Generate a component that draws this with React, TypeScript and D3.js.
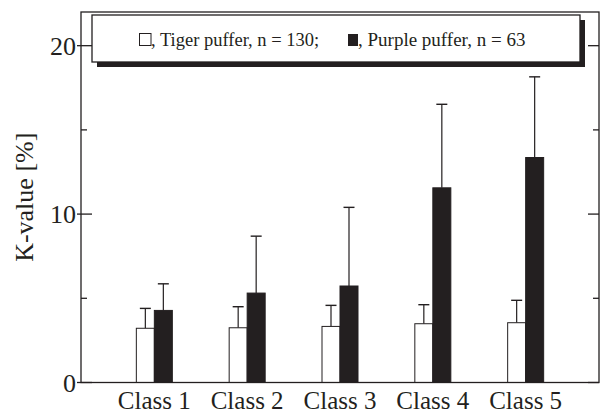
import React from "react";
import * as d3 from "d3";

const categories = ["Class 1", "Class 2", "Class 3", "Class 4", "Class 5"];
const tigerMean = [3.22, 3.25, 3.33, 3.49, 3.55];
const tigerSD = [1.18, 1.25, 1.25, 1.13, 1.33];
const purpleMean = [4.28, 5.31, 5.73, 11.56, 13.36];
const purpleSD = [1.58, 3.38, 4.67, 4.96, 4.79];
const majorTicks = [0, 10, 20];
const minorTicks = [5, 15];
const legendTiger = ", Tiger puffer, n = 130;";
const legendPurple = ", Purple puffer, n = 63";
const yLabel = "K-value [%]";

const W = 601;
const H = 415;
const M = { left: 81, right: 599, top: 12, bottom: 382.5 };
const INK = "#231f20";
const FONT = "'Liberation Serif', 'Times New Roman', serif";

export default function App() {
  const x = d3.scalePoint<string>().domain(categories).range([M.left, M.right]).padding(0.79);
  const y = d3.scaleLinear().domain([0, 22]).range([M.bottom, M.top]);
  const barW = 18;
  const capW = 11;

  const series = [
    { mean: tigerMean, sd: tigerSD, fill: "#ffffff", off: -barW },
    { mean: purpleMean, sd: purpleSD, fill: INK, off: 0 },
  ];

  return (
    <svg width={W} height={H} style={{ position: "absolute", left: 0, top: 0, background: "#fff" }} fontFamily={FONT}>
      {/* bars */}
      {series.map((s, si) =>
        categories.map((c, i) => {
          const cx = (x(c) as number) + s.off;
          const top = y(s.mean[i]);
          const errTop = y(s.mean[i] + s.sd[i]);
          const mid = cx + barW / 2;
          return (
            <g key={`${si}-${i}`}>
              <line x1={mid} x2={mid} y1={top} y2={errTop} stroke={INK} strokeWidth={1.2} />
              <line x1={mid - capW / 2} x2={mid + capW / 2} y1={errTop} y2={errTop} stroke={INK} strokeWidth={1.4} />
              <rect x={cx} y={top} width={barW} height={y(0) - top} fill={s.fill} stroke={INK} strokeWidth={1} />
            </g>
          );
        })
      )}

      {/* frame */}
      <rect x={M.left} y={M.top} width={M.right - M.left} height={M.bottom - M.top} fill="none" stroke={INK} strokeWidth={1.3} />

      {/* y ticks left & right */}
      {majorTicks.map((t) => (
        <g key={`mj${t}`}>
          <line x1={M.left - 4} x2={M.left + 11} y1={y(t)} y2={y(t)} stroke={INK} strokeWidth={1.3} />
          <line x1={M.right - 11} x2={M.right} y1={y(t)} y2={y(t)} stroke={INK} strokeWidth={1.3} />
          <text x={76} y={y(t)} dy="0.35em" textAnchor="end" fontSize={26} fill={INK}>
            {t}
          </text>
        </g>
      ))}
      {minorTicks.map((t) => (
        <g key={`mn${t}`}>
          <line x1={M.left} x2={M.left + 6} y1={y(t)} y2={y(t)} stroke={INK} strokeWidth={1.3} />
          <line x1={M.right - 6} x2={M.right} y1={y(t)} y2={y(t)} stroke={INK} strokeWidth={1.3} />
        </g>
      ))}

      {/* x labels */}
      {categories.map((c) => (
        <text key={c} x={x(c) as number} y={408.5} textAnchor="middle" fontSize={25} fill={INK}>
          {c}
        </text>
      ))}

      {/* y label */}
      <text transform={`translate(33, ${(M.top + M.bottom) / 2}) rotate(-90)`} textAnchor="middle" fontSize={26} fill={INK}>
        {yLabel}
      </text>

      {/* legend */}
      <rect x={97} y={20} width={488} height={47} fill={INK} />
      <rect x={92} y={15} width={488} height={47} fill="#fff" stroke={INK} strokeWidth={1.3} />
      <rect x={139.5} y={33.5} width={11.5} height={12} fill="#fff" stroke={INK} strokeWidth={1} />
      <text x={151} y={46} fontSize={18.5} fill={INK}>
        {legendTiger}
      </text>
      <rect x={348} y={34} width={10} height={12} fill={INK} />
      <text x={358} y={46} fontSize={19} fill={INK}>
        {legendPurple}
      </text>
    </svg>
  );
}
